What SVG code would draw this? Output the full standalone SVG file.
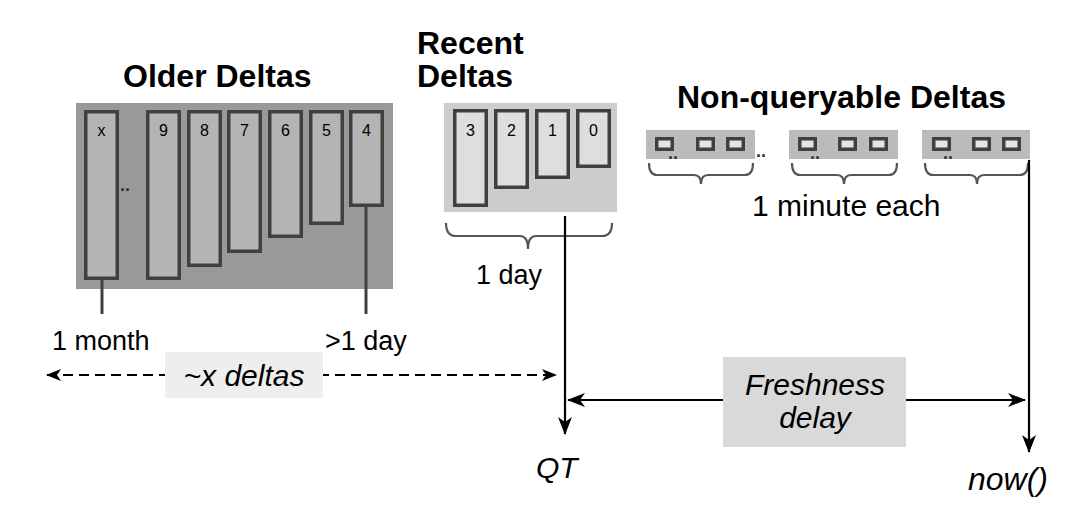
<svg xmlns="http://www.w3.org/2000/svg" width="1080" height="522" viewBox="0 0 1080 522">
<defs>
<style>
text{font-family:"Liberation Sans",Arial,sans-serif;fill:#000}
.title{font-size:32px;font-weight:bold}
.num{font-size:16px;text-anchor:middle}
.lbl{font-size:27px}
.it{font-style:italic}
.dots{font-size:18px;font-weight:bold;fill:#333}
.ob{fill:#b4b4b4;stroke:#404040;stroke-width:3.5}
.rb{fill:#dedede;stroke:#404040;stroke-width:3.5}
.nb{fill:#e4e4e4;stroke:#404040;stroke-width:3.5}
.brk{fill:none;stroke:#555;stroke-width:2.2}
.ln{fill:none;stroke:#000;stroke-width:2.2}
</style>
<marker id="ah" viewBox="0 0 18 14" refX="17" refY="7" markerWidth="18" markerHeight="14" markerUnits="userSpaceOnUse" orient="auto-start-reverse">
<path d="M0,0 L18,7 L0,14 L5,7 z" fill="#000"/>
</marker>
<marker id="ahs" viewBox="0 0 15 12" refX="14" refY="6" markerWidth="15" markerHeight="12" markerUnits="userSpaceOnUse" orient="auto-start-reverse">
<path d="M0,0 L15,6 L0,12 L4,6 z" fill="#000"/>
</marker>
</defs>
<rect width="1080" height="522" fill="#fff"/>

<g id="older-deltas">
<text class="title" x="123" y="87">Older Deltas</text>
<rect x="76" y="103" width="317" height="186" fill="#999"/>
<rect class="ob" x="85.75" y="111.75" width="31.5" height="166.5"/>
<rect class="ob" x="147.75" y="111.75" width="31.5" height="166.5"/>
<rect class="ob" x="188.75" y="111.75" width="31.5" height="153.5"/>
<rect class="ob" x="228.75" y="111.75" width="31.5" height="139.5"/>
<rect class="ob" x="269.75" y="111.75" width="31.5" height="124.5"/>
<rect class="ob" x="310.75" y="111.75" width="31.5" height="111.5"/>
<rect class="ob" x="350.75" y="111.75" width="31.5" height="93.5"/>
<text class="num" x="101.5" y="136">x</text>
<text class="num" x="163.5" y="136">9</text>
<text class="num" x="204.5" y="136">8</text>
<text class="num" x="244.5" y="136">7</text>
<text class="num" x="285.5" y="136">6</text>
<text class="num" x="326.5" y="136">5</text>
<text class="num" x="366.5" y="136">4</text>
<text class="dots" x="120" y="191">..</text>
<line x1="102" y1="280" x2="102" y2="314" stroke="#404040" stroke-width="3"/>
<line x1="366" y1="207" x2="366" y2="314" stroke="#404040" stroke-width="3"/>
<text class="lbl" x="52" y="350">1 month</text>
<text class="lbl" x="325" y="350">&gt;1 day</text>
</g>

<g id="recent-deltas">
<text class="title" x="417" y="54">Recent</text>
<text class="title" x="417" y="87">Deltas</text>
<rect x="444" y="103" width="173" height="109" fill="#ccc"/>
<rect class="rb" x="454.75" y="110.75" width="31.5" height="94.5"/>
<rect class="rb" x="495.75" y="110.75" width="31.5" height="76.5"/>
<rect class="rb" x="536.75" y="110.75" width="31.5" height="66.5"/>
<rect class="rb" x="577.75" y="110.75" width="31.5" height="55.5"/>
<text class="num" x="470.5" y="136">3</text>
<text class="num" x="511.5" y="136">2</text>
<text class="num" x="552.5" y="136">1</text>
<text class="num" x="593.5" y="136">0</text>
<path class="brk" d="M446,223 Q446,236 456,236 L520,236 Q528,236 528,249 Q528,236 536,236 L602,236 Q612,236 612,223"/>
<text class="lbl" x="476" y="284">1 day</text>
</g>

<g id="non-queryable-deltas">
<text class="title" x="677" y="108">Non-queryable Deltas</text>
<rect x="646" y="130" width="109" height="29" fill="#bbb"/>
<rect x="789" y="130" width="109" height="29" fill="#bbb"/>
<rect x="922" y="130" width="108" height="29" fill="#bbb"/>
<rect class="nb" x="656.75" y="138.75" width="15.5" height="10.5"/>
<rect class="nb" x="697.75" y="138.75" width="15.5" height="10.5"/>
<rect class="nb" x="727.75" y="138.75" width="15.5" height="10.5"/>
<rect class="nb" x="799.75" y="138.75" width="15.5" height="10.5"/>
<rect class="nb" x="839.75" y="138.75" width="15.5" height="10.5"/>
<rect class="nb" x="870.75" y="138.75" width="15.5" height="10.5"/>
<rect class="nb" x="933.75" y="138.75" width="15.5" height="10.5"/>
<rect class="nb" x="973.75" y="138.75" width="15.5" height="10.5"/>
<rect class="nb" x="1003.75" y="138.75" width="15.5" height="10.5"/>
<text class="dots" x="668" y="159">..</text>
<text class="dots" x="756" y="157">..</text>
<text class="dots" x="810" y="159">..</text>
<text class="dots" x="943" y="159">..</text>
<path class="brk" d="M649,163 Q649,175 657,175 L694,175 Q701,175 701,184 Q701,175 708,175 L745,175 Q753,175 753,163"/>
<path class="brk" d="M792,163 Q792,175 800,175 L837,175 Q844,175 844,184 Q844,175 851,175 L889,175 Q897,175 897,163"/>
<path class="brk" d="M925,163 Q925,175 933,175 L970,175 Q977,175 977,184 Q977,175 984,175 L1020,175 Q1028,175 1028,163"/>
<text class="lbl" x="752" y="216" style="font-size:30px">1 minute each</text>
</g>

<g id="connectors">
<line class="ln" x1="47" y1="375" x2="556" y2="375" stroke-width="2.5" stroke-dasharray="10 6" marker-start="url(#ahs)" marker-end="url(#ahs)"/>
<line class="ln" x1="565" y1="216" x2="565" y2="434" stroke-width="2.5" marker-end="url(#ah)"/>
<line class="ln" x1="1029" y1="160" x2="1029" y2="452" stroke-width="2.5" marker-end="url(#ah)"/>
<line class="ln" x1="568" y1="400" x2="1025" y2="400" marker-start="url(#ah)" marker-end="url(#ah)"/>
</g>

<g id="x-deltas-label">
<rect x="165" y="352" width="158" height="46" fill="#eee"/>
<text class="it" x="244" y="386" text-anchor="middle" style="font-size:30px">~x deltas</text>
</g>

<g id="freshness-delay">
<rect x="723" y="357" width="183" height="90" fill="#d9d9d9"/>
<text class="it" x="815" y="395" text-anchor="middle" style="font-size:30px">Freshness</text>
<text class="it" x="815" y="428" text-anchor="middle" style="font-size:30px">delay</text>
</g>

<g id="qt">
<text class="it" x="536" y="478" style="font-size:30px">QT</text>
</g>
<g id="now">
<text class="it" x="968" y="490" style="font-size:32px">now()</text>
</g>
</svg>
